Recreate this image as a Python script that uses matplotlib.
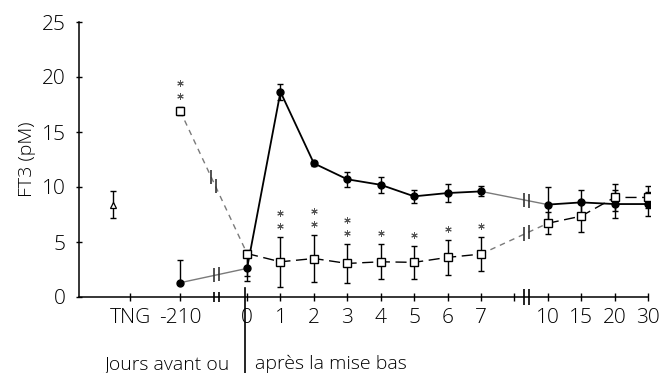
import numpy as np
import matplotlib
matplotlib.use("Agg")
import matplotlib.pyplot as plt
from matplotlib.transforms import offset_copy, blended_transform_factory

plt.rcParams['font.family'] = ['Open Sans', 'DejaVu Sans']
plt.rcParams['font.weight'] = 'light'
plt.rcParams['axes.labelweight'] = 'light'

# ---- data ----
tick_pos = [-3.5, -2, 0, 1, 2, 3, 4, 5, 6, 7, 9, 10, 11, 12]
tick_labels = ['TNG', '-210', '0', '1', '2', '3', '4', '5', '6', '7', '10', '15', '20', '30']
extra_ticks = [8]
breaks = [-0.91, 8.36]

tng_x = [-4]
tng_y = [8.4]
tng_err = [1.2]

circ_x = [-2, 0, 1, 2, 3, 4, 5, 6, 7, 9, 10, 11, 12]
circ_y = [1.3, 2.6, 18.65, 12.15, 10.7, 10.2, 9.15, 9.45, 9.6, 8.4, 8.6, 8.45, 8.45]
circ_err_lo = [0.0, 1.1, 0.7, 0.25, 0.7, 0.7, 0.6, 0.8, 0.45, 1.6, 1.15, 1.3, 1.1]
circ_err_hi = [2.1, 1.1, 0.7, 0.25, 0.7, 0.7, 0.6, 0.8, 0.45, 1.6, 1.15, 1.3, 1.1]

sq_x = [-2, 0, 1, 2, 3, 4, 5, 6, 7, 9, 10, 11, 12]
sq_y = [16.9, 3.95, 3.2, 3.5, 3.05, 3.2, 3.15, 3.6, 3.9, 6.7, 7.35, 9.05, 9.05]
sq_err_lo = [0.35, 2.0, 2.3, 2.1, 1.8, 1.6, 1.5, 1.6, 1.55, 1.0, 1.4, 1.2, 1.0]
sq_err_hi = [0.35, 0.3, 2.3, 2.1, 1.8, 1.6, 1.5, 1.6, 1.55, 1.0, 1.4, 1.2, 1.0]

star_x = [-2, 1, 2, 3, 4, 5, 6, 7]
star_n = [2, 2, 2, 2, 1, 1, 1, 1]

GREY = '#7a7a7a'

fig = plt.figure(figsize=(6.71, 3.73), dpi=100)
ax = fig.add_axes([79 / 671, 76 / 373, 571 / 671, 275 / 373])
ax.set_xlim(-5.03, 12.06)
ax.set_ylim(0, 25)

cx = np.array(circ_x); cy = np.array(circ_y)
sx = np.array(sq_x); sy = np.array(sq_y)

# segment indices
i0 = circ_x.index(0); i7 = circ_x.index(7); i9 = circ_x.index(9)

# circle lines
ax.plot(cx[:i0 + 1], cy[:i0 + 1], color=GREY, lw=1.0, zorder=2)
ax.plot(cx[i7:i9 + 1], cy[i7:i9 + 1], color=GREY, lw=1.0, zorder=2)
ax.plot(cx[i0:i7 + 1], cy[i0:i7 + 1], color='black', lw=1.3, zorder=2)
ax.plot(cx[i9:], cy[i9:], color='black', lw=1.3, zorder=2)

# square lines
ax.plot(sx[:i0 + 1], sy[:i0 + 1], color=GREY, lw=1.0, ls=(0, (4, 3.5)), zorder=2)
ax.plot(sx[i7:i9 + 1], sy[i7:i9 + 1], color=GREY, lw=1.0, ls=(0, (4, 3.5)), zorder=2)
ax.plot(sx[i0:i7 + 1], sy[i0:i7 + 1], color='black', lw=1.0, ls=(0, (8, 4)), zorder=2)
ax.plot(sx[i9:], sy[i9:], color='black', lw=1.0, ls=(0, (8, 4)), zorder=2)

# error bars and markers
ekw = dict(fmt='none', ecolor='black', elinewidth=1.0, capsize=2.5, capthick=1.0, zorder=3)
ax.errorbar(cx, cy, yerr=[circ_err_lo, circ_err_hi], **ekw)
ax.errorbar(sx, sy, yerr=[sq_err_lo, sq_err_hi], **ekw)
ax.errorbar(tng_x, tng_y, yerr=tng_err, **ekw)
ax.plot(cx, cy, 'o', color='black', ms=5, zorder=4)
ax.plot(sx, sy, 's', mfc='white', mec='black', mew=1.0, ms=5.5, zorder=5)
ax.plot(tng_x, tng_y, '^', mfc='white', mec='black', mew=0.9, ms=4.5, zorder=5)

# significance stars (drawn as asterisk markers above the error bars)
for x, n in zip(star_x, star_n):
    k = sq_x.index(x)
    top = sy[k] + sq_err_hi[k]
    for j in range(n):
        tr = offset_copy(ax.transData, fig=fig, x=0, y=11 + 13 * j, units='dots')
        ax.plot([x], [top], marker=(6, 2, 0), ms=4.6, mew=0.7, color='#555555',
                transform=tr, zorder=6, clip_on=False)


# break marks on lines and axis
def brk_marks(xs, ys, xb, color, h=7):
    inv = ax.transData.inverted()
    for dx in (-2.2, 2.2):
        xd = xb + dx / 33.4
        yd = np.interp(xd, xs, ys)
        p0 = ax.transData.transform((xd, yd))
        a = inv.transform((p0[0], p0[1] - h))
        b = inv.transform((p0[0], p0[1] + h))
        ax.plot([a[0], b[0]], [a[1], b[1]], color=color, lw=1.2, zorder=6,
                clip_on=False, solid_capstyle='butt')


brk_marks(cx[:i0 + 1], cy[:i0 + 1], breaks[0], '#333333')
brk_marks(sx[:i0 + 1], sy[:i0 + 1], breaks[0] - 0.1, '#333333')
brk_marks(cx[i7:i9 + 1], cy[i7:i9 + 1], breaks[1], '#333333')
brk_marks(sx[i7:i9 + 1], sy[i7:i9 + 1], breaks[1], '#333333')
brk_marks(np.array([-6, 13]), np.array([0, 0]), breaks[0], 'black', h=5)
brk_marks(np.array([-6, 13]), np.array([0, 0]), breaks[1], 'black', h=8)

# axes styling
for s in ('top', 'right'):
    ax.spines[s].set_visible(False)
ax.spines['left'].set_linewidth(1.1)
ax.spines['bottom'].set_linewidth(1.1)
ax.spines['bottom'].set_bounds(-5.03, 12)
ax.set_yticks([0, 5, 10, 15, 20, 25])
ax.set_xticks(tick_pos)
ax.set_xticklabels(tick_labels)
ax.set_xticks(extra_ticks, minor=True)
ax.tick_params(axis='x', which='both', direction='inout', length=6, width=1.0, pad=5,
               labelsize=15)
ax.tick_params(axis='y', direction='inout', length=5, width=1.0, pad=7, labelsize=15)
ax.set_ylabel('FT3 (pM)', fontsize=14, fontweight='light', labelpad=4)

# bottom annotation
bt = blended_transform_factory(ax.transData, ax.transAxes)
ax.plot([-0.06, -0.06], [0.033, -0.3], color='black', lw=1.2, transform=bt, clip_on=False)
ax.text(-0.5, -0.262, 'Jours avant ou', transform=bt, ha='right', va='baseline',
        fontsize=14, fontweight='light')
ax.text(0.24, -0.262, 'après la mise bas', transform=bt, ha='left', va='baseline',
        fontsize=14, fontweight='light')

fig.savefig('out.png', dpi=100)
